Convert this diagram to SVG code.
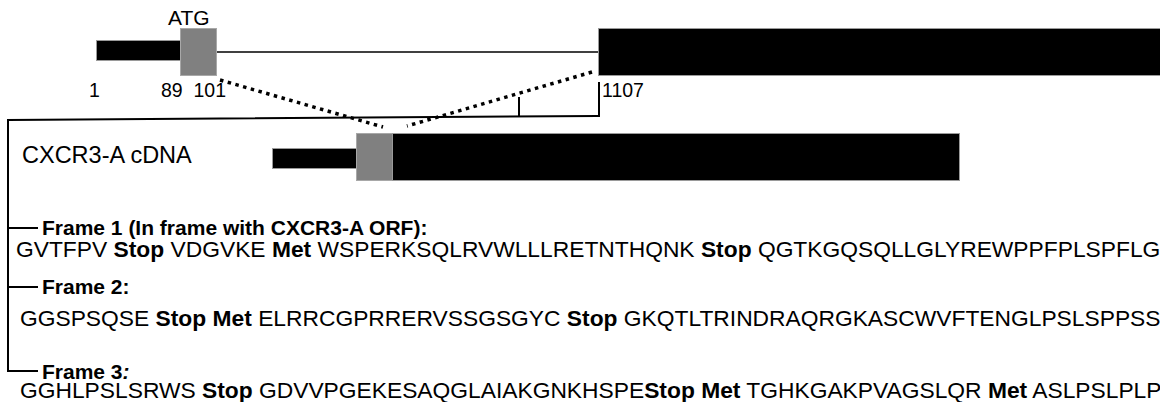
<svg xmlns="http://www.w3.org/2000/svg" width="1160" height="402" viewBox="0 0 1160 402">
<style>
text{font-family:"Liberation Sans",Arial,sans-serif;fill:#000}
.num{font-size:19.5px}
.lbl{font-size:21px;font-weight:bold}
.seq{font-size:22.8px}
.b{font-weight:bold}
.blk{fill:#000;stroke:#9a9a9a;stroke-width:1}
.gry{fill:#808080;stroke:#a8a8a8;stroke-width:1}
.ln{stroke:#000;fill:none}
.dot{stroke:#000;stroke-width:3.5;stroke-dasharray:3.5 4.5;fill:none}
</style>
<rect width="1160" height="402" fill="#fff"/>
<g id="genomic">
<rect class="blk" x="96.5" y="40.5" width="84" height="20"/>
<rect class="gry" x="180.5" y="28.5" width="36" height="47"/>
<line class="ln" x1="217" y1="52" x2="598" y2="52" stroke-width="1.5"/>
<rect class="blk" x="598.5" y="28.5" width="570" height="47"/>
<text x="168" y="25" style="font-size:21px">ATG</text>
<text class="num" x="89" y="97">1</text>
<text class="num" x="161" y="97" xml:space="preserve">89  101</text>
<text class="num" x="602" y="97">1107</text>
</g>
<g id="cdna">
<rect class="blk" x="272.5" y="148.5" width="84" height="20"/>
<rect class="gry" x="356.5" y="133.5" width="36" height="47"/>
<rect class="blk" x="392.5" y="133.5" width="567" height="47"/>
<text x="22" y="163" style="font-size:23.5px">CXCR3-A cDNA</text>
</g>
<g id="connectors">
<line class="dot" x1="220" y1="80" x2="383" y2="127"/>
<line class="dot" x1="592" y1="72" x2="407" y2="126"/>
<polyline class="ln" stroke-width="2" points="8,372 8,120 598,116"/>
<line class="ln" stroke-width="2" x1="519" y1="97" x2="519" y2="117"/>
<line class="ln" stroke-width="2" x1="599" y1="82" x2="599" y2="117"/>
<line class="ln" stroke-width="2" x1="8" y1="228" x2="38" y2="228"/>
<line class="ln" stroke-width="2" x1="8" y1="287" x2="38" y2="287"/>
<line class="ln" stroke-width="2" x1="7" y1="371" x2="38" y2="371"/>
</g>
<g id="frame1">
<text class="lbl" x="42" y="235">Frame 1 (In frame with CXCR3-A ORF):</text>
<text class="seq" x="16" y="257" xml:space="preserve">GVTFPV <tspan class="b">Stop</tspan> VDGVKE <tspan class="b">Met</tspan> WSPERKSQLRVWLLLRETNTHQNK <tspan class="b">Stop</tspan> QGTKGQSQLLGLYREWPPFPLSPFLG</text>
</g>
<g id="frame2">
<text class="lbl" x="42" y="294">Frame 2:</text>
<text class="seq" x="20" y="326" xml:space="preserve">GGSPSQSE <tspan class="b">Stop</tspan> <tspan class="b">Met</tspan> ELRRCGPRRERVSSGSGYC <tspan class="b">Stop</tspan> GKQTLTRINDRAQRGKASCWVFTENGLPSLSPPSSG</text>
</g>
<g id="frame3">
<text class="lbl" x="42" y="379">Frame 3<tspan style="font-style:italic">:</tspan></text>
<text class="seq" x="20" y="398" xml:space="preserve">GGHLPSLSRWS <tspan class="b">Stop</tspan> GDVVPGEKESAQGLAIAKGNKHSPE<tspan class="b">Stop</tspan> <tspan class="b">Met</tspan> TGHKGAKPVAGSLQR <tspan class="b">Met</tspan> ASLPSLPLP</text>
</g>
</svg>
